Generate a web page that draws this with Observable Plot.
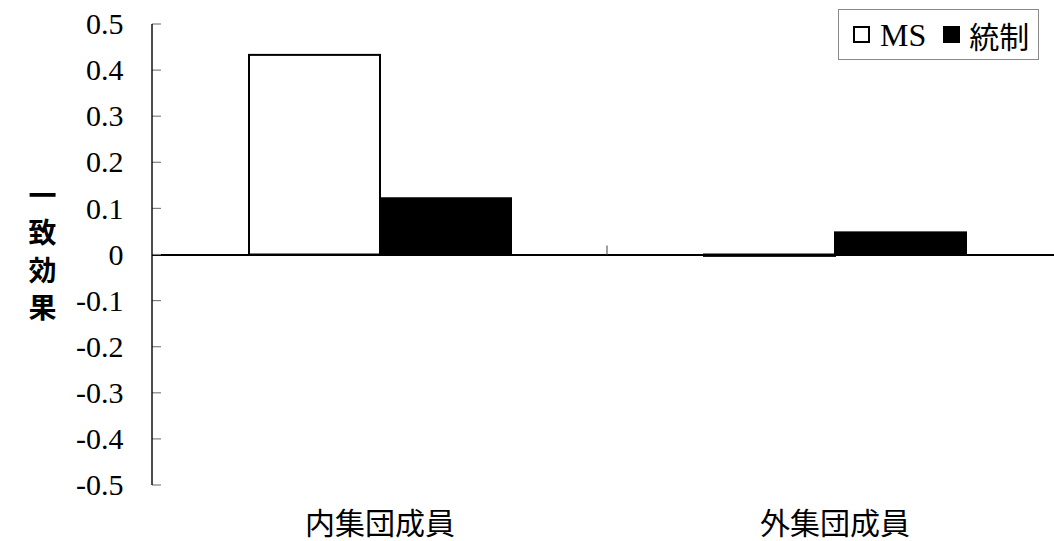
<!DOCTYPE html>
<html>
<head>
<meta charset="utf-8">
<script src="https://cdn.jsdelivr.net/npm/d3@7"></script>
<script src="https://cdn.jsdelivr.net/npm/@observablehq/plot@0.6"></script>
<style>
  html, body { margin: 0; padding: 0; background: #fff; overflow: hidden; }
  #wrap { position: relative; width: 1054px; height: 541px; }
  #legend {
    position: absolute; left: 838px; top: 9px; width: 201px; height: 51px;
    box-sizing: border-box; border: 1px solid #8a8a8a; background: #fff;
    display: flex; align-items: center; padding-left: 14px;
    font-family: 'Liberation Serif', serif; color: #000;
  }
  .sw { width: 17px; height: 17px; box-sizing: border-box; border: 2px solid #000; display: inline-block; }
</style>
</head>
<body>
<div id="wrap"><div id="legend"></div></div>
<script>
const categories = ["内集団成員", "外集団成員"];
const series = ["MS", "統制"];
const msValues = [0.433, -0.003];
const controlValues = [0.122, 0.048];
const yTicks = [-0.5, -0.4, -0.3, -0.2, -0.1, 0, 0.1, 0.2, 0.3, 0.4, 0.5];
const yLabel = "一致効果";
const seriesColors = ["white", "black"];

const rows = [];
categories.forEach((c, i) => {
  rows.push({cat: c, series: series[0], value: msValues[i]});
  rows.push({cat: c, series: series[1], value: controlValues[i]});
});

const tickFmt = d => d === 0 ? "0" : d.toFixed(1);

const chart = Plot.plot({
  width: 1054,
  height: 541,
  marginTop: 24,
  marginBottom: 56,
  marginLeft: 151,
  marginRight: -8,
  style: "font-family: 'Liberation Serif', serif; font-size: 30px; background: white; overflow: visible; color: black;",
  fx: {domain: categories, padding: 0, axis: null},
  x: {domain: series, paddingInner: 0, paddingOuter: 0.734, axis: null},
  y: {domain: [-0.5, 0.5], ticks: yTicks, tickFormat: tickFmt, tickSize: 0, tickPadding: 29, label: null},
  color: {domain: series, range: seriesColors},
  marks: [
    Plot.barY(rows, {fx: "cat", x: "series", y: "value", fill: "series", stroke: "black", strokeWidth: 2}),
    Plot.ruleY([0], {stroke: "black", strokeWidth: 1.8}),
    Plot.text(categories, {fx: d => d, text: d => d, frameAnchor: "bottom", dy: 39, lineAnchor: "middle",
      fontFamily: "'Noto Sans CJK JP', sans-serif", fontSize: 30, fill: "black"}),
    Plot.text([{cat: categories[0], label: yLabel.split("").join("\n")}], {fx: "cat", text: "label", frameAnchor: "left", dx: -124, dy: -5,
      lineHeight: 1.34, fontFamily: "'Noto Sans CJK JP', sans-serif", fontWeight: "bold", fontSize: 28, fill: "black"})
  ]
});

const svgEl = chart.tagName.toLowerCase() === "svg" ? chart : chart.querySelector("svg");
const svg = d3.select(svgEl);
// force serif on the numeric tick labels
const tickStrings = new Set(yTicks.map(tickFmt));
svg.selectAll("text").each(function() {
  if (tickStrings.has(this.textContent.trim())) {
    this.style.fontFamily = "'Liberation Serif', serif";
    this.style.fontSize = "30px";
    this.style.fontVariant = "normal";
    this.setAttribute("fill", "#000");
  }
});

// y axis line, inward ticks and category separator tick drawn with Plot's scales
const y = chart.scale("y");
const fx = chart.scale("fx");
const x0 = fx.apply(categories[0]);
const g = svg.append("g");
g.selectAll("line.tk").data(yTicks).join("line")
  .attr("x1", x0).attr("x2", x0 + 9)
  .attr("y1", d => y.apply(d)).attr("y2", d => y.apply(d))
  .attr("stroke", "#808080").attr("stroke-width", 1.2);
g.append("line")
  .attr("x1", x0).attr("x2", x0)
  .attr("y1", y.apply(0.5)).attr("y2", y.apply(-0.5))
  .attr("stroke", "black").attr("stroke-width", 1.4);
g.selectAll("line.sep").data(categories.slice(1)).join("line")
  .attr("x1", d => fx.apply(d)).attr("x2", d => fx.apply(d))
  .attr("y1", y.apply(0)).attr("y2", y.apply(0) - 9)
  .attr("stroke", "#606060").attr("stroke-width", 1.2);

document.getElementById("wrap").prepend(chart);

// legend
const lg = document.getElementById("legend");
series.forEach((s, i) => {
  const sw = document.createElement("span");
  sw.className = "sw";
  sw.style.background = seriesColors[i];
  sw.style.marginLeft = i === 0 ? "0px" : "17px";
  const t = document.createElement("span");
  t.textContent = s;
  t.style.marginLeft = i === 0 ? "10px" : "9px";
  t.style.fontSize = i === 0 ? "32px" : "30px";
  t.style.fontFamily = i === 0 ? "'Liberation Serif', serif" : "'Noto Sans CJK JP', sans-serif";
  t.style.lineHeight = "1";
  lg.appendChild(sw);
  lg.appendChild(t);
});
</script>
</body>
</html>
